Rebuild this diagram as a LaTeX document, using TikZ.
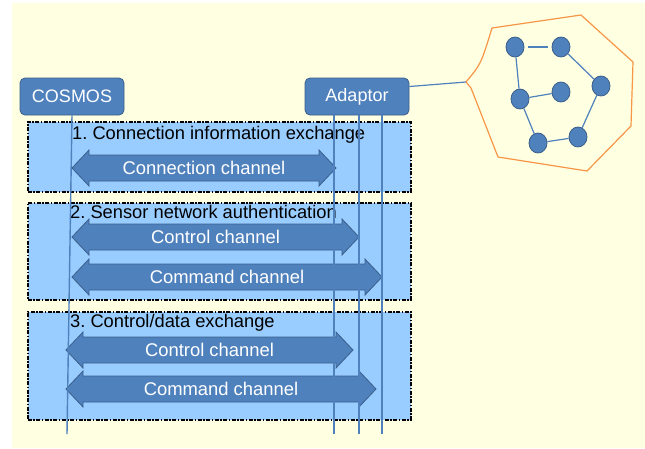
\documentclass[tikz,border=0pt]{standalone}
\usepackage{fontspec}
\setmainfont{Liberation Sans}
\usepackage{tikz}
\usetikzlibrary{shapes.geometric}
\definecolor{boxblue}{HTML}{4F81BD}
\definecolor{boxedge}{HTML}{3A5F8B}
\definecolor{phasefill}{HTML}{99CCFF}
\definecolor{paper}{HTML}{FFFFE1}
\definecolor{hullorange}{HTML}{F79646}
\frenchspacing

% fat two-headed channel arrow: name, left x, right x, middle y, label
\newcommand{\channel}[5]{%
  \fill[boxblue, draw=boxedge, line width=0.8pt]
    (#2,#4) -- (#2+17,#4-18) -- (#2+17,#4-13) -- (#3-17,#4-13) -- (#3-17,#4-18)
    -- (#3,#4) -- (#3-17,#4+18) -- (#3-17,#4+13) -- (#2+17,#4+13) -- (#2+17,#4+18) -- cycle;
  \node[chantext] (#1) at ({(#2+#3)/2},#4) {#5};
}

\begin{document}
\begin{tikzpicture}[x=1pt, y=-1pt,
  actor/.style={draw=boxedge, fill=boxblue, rounded corners=5pt, line width=0.8pt,
    minimum width=104pt, minimum height=37pt, text=white, font=\fontsize{18}{21}\selectfont},
  phase/.style={draw=black, fill=phasefill, line width=1.8pt,
    dash pattern=on 4pt off 1.5pt on 1.5pt off 1.5pt, anchor=north west,
    minimum width=383pt, inner sep=0pt},
  phasetitle/.style={anchor=west, inner sep=0pt, font=\fontsize{18.3}{21}\selectfont},
  chantext/.style={text=white, inner sep=0pt, font=\fontsize{18.4}{21}\selectfont},
  lifeline/.style={draw=boxblue, line width=1.4pt},
  sensor/.style={ellipse, draw=boxedge, fill=boxblue, line width=0.8pt,
    minimum width=18pt, minimum height=20pt, inner sep=0pt},
  link/.style={draw=boxblue, line width=1.2pt}]
  \useasboundingbox (0,0) rectangle (645,448);
  % background
  \fill[paper] (12,3) rectangle (645,448);
  % actors
  \node[actor] (cosmos) at (72,96.5) {COSMOS};
  \node[actor] (adaptor) at (357,96.5) {Adaptor};
  % phases
  \node[phase, minimum height=70pt] (phase1) at (27,121) {};
  \node[phase, minimum height=97pt] (phase2) at (27,202) {};
  \node[phase, minimum height=108pt] (phase3) at (27,311) {};
  \node[phasetitle] (title1) at (72,135) {1. Connection information exchange};
  \node[phasetitle] (title2) at (70,212) {2. Sensor network authentication};
  \node[phasetitle] (title3) at (70,323) {3. Control/data exchange};
  % channels
  \channel{conn}{72}{336}{168}{Connection channel}
  \channel{ctrlA}{72}{359}{237}{Control channel}
  \channel{cmdA}{72}{382}{277}{Command channel}
  \channel{ctrlB}{66}{353}{350}{Control channel}
  \channel{cmdB}{66}{376}{389}{Command channel}
  % lifelines
  \coordinate (cosmosEnd) at (67,434);
  \draw[lifeline] (cosmos.south) -- (cosmosEnd);
  \foreach \x [count=\i] in {334,359,382} {
    \coordinate (adTop\i) at (\x,115);
    \coordinate (adEnd\i) at (\x,434);
    \draw[lifeline] (adTop\i) -- (adEnd\i);
  }
  % sensor network
  \coordinate (hullTip) at (466,82);
  \draw[hullorange, line width=1.2pt] (hullTip) .. controls (481,64) .. (492,28)
    -- (581,15) -- (633,62) -- (631,126) -- (587,171) -- (498,157) -- (471,88) -- cycle;
  \draw[link] ([yshift=10pt]adaptor.east) -- (hullTip);
  \node[sensor] (s1) at (515,47) {};
  \node[sensor] (s2) at (561,47) {};
  \node[sensor] (s3) at (601,86) {};
  \node[sensor] (s4) at (561,92) {};
  \node[sensor] (s5) at (520,99) {};
  \node[sensor] (s6) at (538,143) {};
  \node[sensor] (s7) at (578,137) {};
  \draw[link, shorten <=4pt, shorten >=4pt] (s1) -- (s2);
  \draw[link] (s2) -- (s3) (s1) -- (s5) (s5) -- (s4) (s5) -- (s6) (s6) -- (s7) (s7) -- (s3);
\end{tikzpicture}
\end{document}
